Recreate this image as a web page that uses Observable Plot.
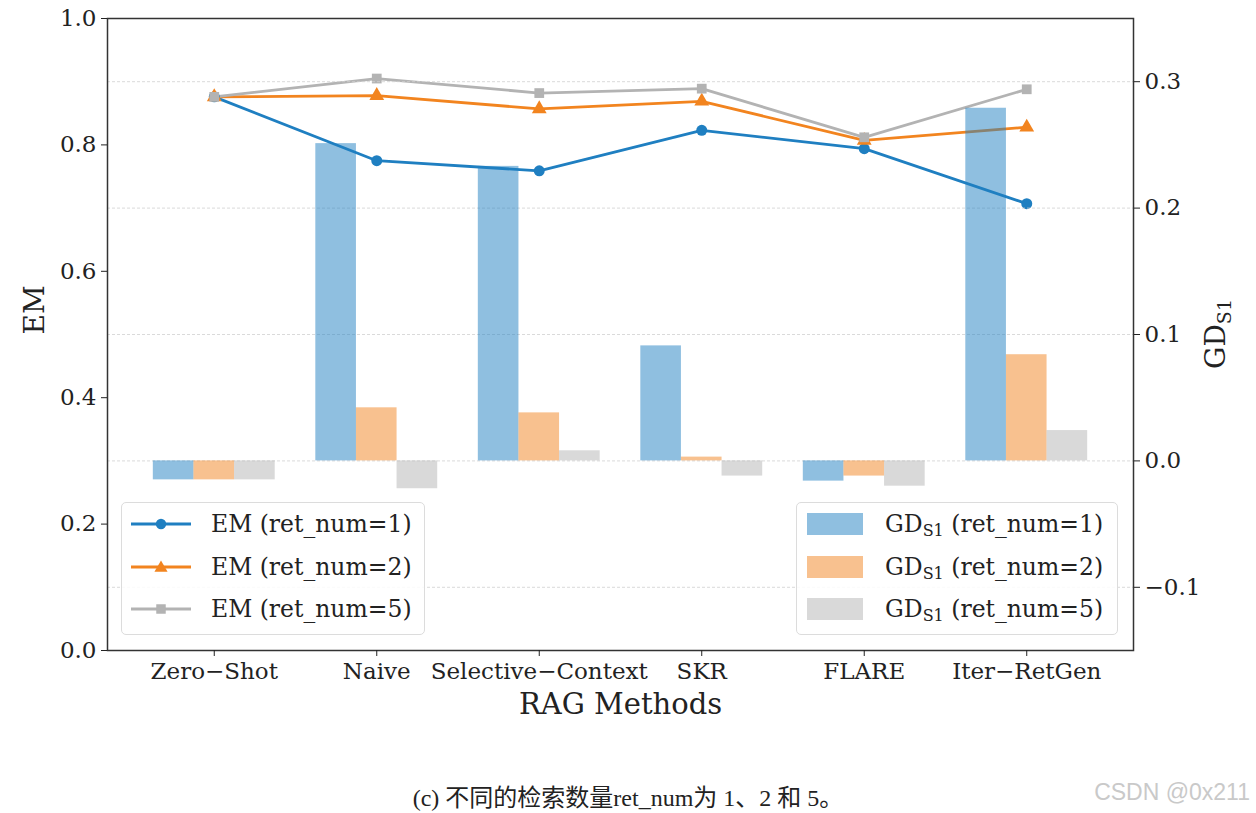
<!DOCTYPE html>
<html><head><meta charset="utf-8">
<script src="https://cdn.jsdelivr.net/npm/d3@7"></script>
<script src="https://cdn.jsdelivr.net/npm/@observablehq/plot@0.6"></script>
<style>
body{margin:0;background:#fff;}
#wrap{position:relative;width:1256px;height:813px;overflow:hidden;}
.legend{position:absolute;box-sizing:border-box;border:1px solid #dcdcdc;border-radius:5px;background:rgba(255,255,255,0.85);font-family:"DejaVu Serif",serif;font-size:23.5px;color:#222;}
.row{position:absolute;left:0;height:30px;width:100%;}
.row svg{position:absolute;top:0;}
.row span{position:absolute;top:0;line-height:30px;white-space:nowrap;}
.row sub{font-size:16px;vertical-align:-4px;}
#caption{position:absolute;top:778px;left:0;width:1256px;text-align:center;font-family:"Liberation Serif","Noto Sans CJK SC",serif;font-size:24px;color:#222;}
#mark{position:absolute;top:779px;right:6px;font-family:"Liberation Sans",sans-serif;font-size:23px;color:#c9c9c9;}
</style></head><body><div id="wrap"></div>
<script>
const methods = ["Zero\u2212Shot","Naive","Selective\u2212Context","SKR","FLARE","Iter\u2212RetGen"];
const retNums = [1, 2, 5];
const em1 = [0.876, 0.775, 0.759, 0.823, 0.794, 0.707];
const em2 = [0.876, 0.878, 0.857, 0.869, 0.807, 0.828];
const em5 = [0.876, 0.905, 0.882, 0.889, 0.812, 0.888];
const gd1 = [-0.015, 0.251, 0.233, 0.091, -0.016, 0.279];
const gd2 = [-0.015, 0.042, 0.038, 0.003, -0.012, 0.084];
const gd5 = [-0.015, -0.022, 0.008, -0.012, -0.020, 0.024];
const emTicks = [0, 0.2, 0.4, 0.6, 0.8, 1.0];
const gdTicks = [-0.1, 0, 0.1, 0.2, 0.3];
const gdDomain = [-0.15, 0.35];
const lineColors = ["#1f7fc1", "#f2841f", "#b3b3b3"];
const symbols = ["circle", "triangle", "square"];

const toEm = g => (g - gdDomain[0]) / (gdDomain[1] - gdDomain[0]);
const fromEm = e => e * (gdDomain[1] - gdDomain[0]) + gdDomain[0];

const emSeries = [em1, em2, em5];
const gdSeries = [gd1, gd2, gd5];
const lineRows = [];
const barRows = [];
const barW = 0.25;
retNums.forEach((r, k) => {
  methods.forEach((m, i) => {
    lineRows.push({i, ret: r, em: emSeries[k][i]});
    const x1 = i + (k - 1) * barW - barW / 2;
    barRows.push({x1, x2: x1 + barW, ret: r, y1: toEm(0), y2: toEm(gdSeries[k][i])});
  });
});

const W = 1256, H = 770;
const chart = Plot.plot({
  width: W, height: H,
  marginLeft: 107, marginRight: 123, marginTop: 18, marginBottom: H - 650,
  style: {fontFamily: "DejaVu Serif, serif", fontSize: "23px", color: "#222", background: "transparent"},
  x: {domain: [-0.657, 5.657]},
  y: {domain: [0, 1]},
  color: {domain: retNums, range: lineColors},
  symbol: {domain: retNums, range: symbols},
  marks: [
    Plot.line(lineRows, {x: "i", y: "em", z: "ret", stroke: "ret", strokeWidth: 2.8}),
    Plot.dot(lineRows, {x: "i", y: "em", fill: "ret", symbol: "ret", r: 5.5, stroke: "none"}),
    Plot.ruleY(gdTicks.map(toEm), {stroke: "#d0d0d0", strokeWidth: 0.8, strokeDasharray: "3,2"}),
    Plot.rect(barRows, {x1: "x1", x2: "x2", y1: "y1", y2: "y2", fill: "ret", fillOpacity: 0.5}),
    Plot.frame({stroke: "#333", strokeWidth: 1.5}),
    Plot.axisY(emTicks, {anchor: "left", tickSize: 6, tickPadding: 5, tickFormat: d => d.toFixed(1), label: null, fontSize: 23}),
    Plot.axisY(gdTicks.map(toEm), {anchor: "right", tickSize: 6, tickPadding: 5, tickFormat: d => d3.format(".1f")(Math.round(fromEm(d) * 10) / 10 + 0), label: null, fontSize: 23}),
    Plot.axisX(d3.range(methods.length), {anchor: "bottom", tickSize: 6, tickPadding: 6, tickFormat: i => methods[i], label: null, fontSize: 23}),
    Plot.text(["EM"], {frameAnchor: "left", rotate: -90, dx: -72, fontSize: 28}),
    Plot.text(["RAG Methods"], {frameAnchor: "bottom", dy: 63, fontSize: 29})
  ]
});

const wrap = document.getElementById("wrap");
wrap.appendChild(chart);

// right axis label with subscript
const xs = chart.scale("x").range, ys = chart.scale("y").range;
const rx = xs[1] + 92, ry = (ys[0] + ys[1]) / 2;
const t = d3.select(chart).append("text")
  .attr("transform", `translate(${rx},${ry}) rotate(-90)`)
  .attr("text-anchor", "middle").attr("font-family", "DejaVu Serif, serif").attr("fill", "#222");
t.append("tspan").attr("font-size", 28).text("GD");
t.append("tspan").attr("font-size", 19).attr("dy", 6).text("S1");

// legends
function legend(left, top, width, kind) {
  const box = document.createElement("div");
  box.className = "legend";
  Object.assign(box.style, {left: left + "px", top: top + "px", width: width + "px", height: "133px"});
  retNums.forEach((r, k) => {
    const row = document.createElement("div");
    row.className = "row";
    row.style.top = (6 + k * 42.5) + "px";
    let sw;
    if (kind === "line") {
      const sym = d3.symbol(k === 0 ? d3.symbolCircle : k === 1 ? d3.symbolTriangle : d3.symbolSquare, k === 0 ? 85 : k === 1 ? 75 : 90)();
      sw = `<svg width="64" height="30" style="left:7px"><line x1="2" x2="62" y1="15" y2="15" stroke="${lineColors[k]}" stroke-width="2.8"/><path transform="translate(32,${k === 1 ? 16 : 15})" d="${sym}" fill="${lineColors[k]}"/></svg>`;
      row.innerHTML = sw + `<span style="left:89px">EM (ret_num=${r})</span>`;
    } else {
      sw = `<svg width="58" height="30" style="left:10px"><rect x="0" y="4" width="56" height="22" fill="${lineColors[k]}" fill-opacity="0.5"/></svg>`;
      row.innerHTML = sw + `<span style="left:88px">GD<sub>S1</sub> (ret_num=${r})</span>`;
    }
    box.appendChild(row);
  });
  wrap.appendChild(box);
}
legend(121, 502, 304, "line");
legend(796, 502, 322, "bar");

const cap = document.createElement("div");
cap.id = "caption";
cap.textContent = "(c) 不同的检索数量ret_num为 1、2 和 5。";
wrap.appendChild(cap);
const mk = document.createElement("div");
mk.id = "mark";
mk.textContent = "CSDN @0x211";
wrap.appendChild(mk);
</script>
</body></html>
